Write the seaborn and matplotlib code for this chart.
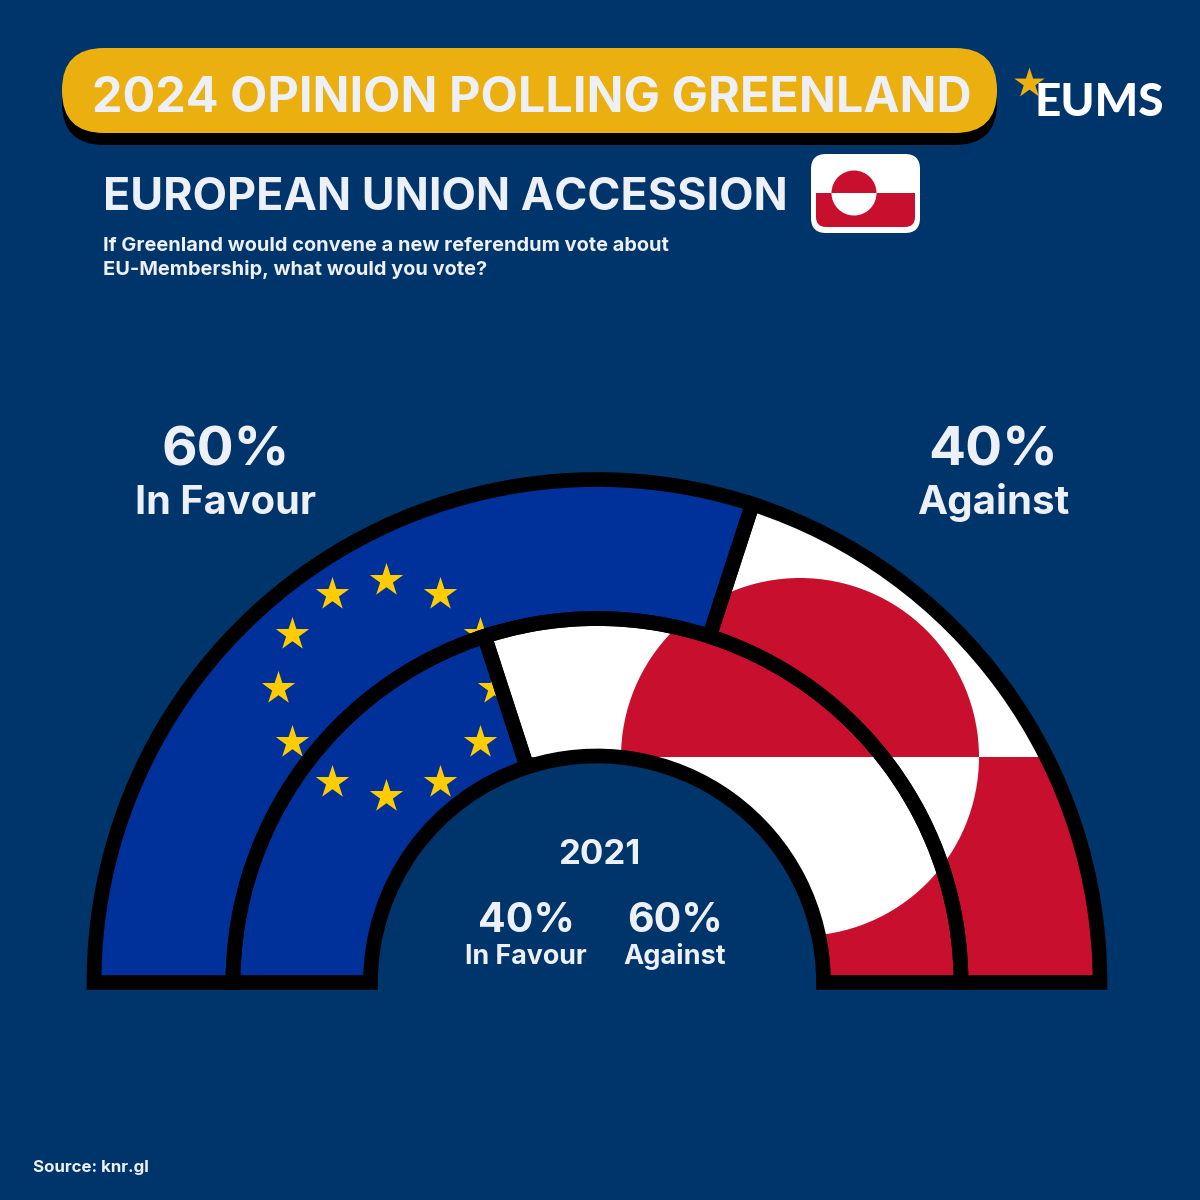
import matplotlib
matplotlib.use("Agg")
import matplotlib.pyplot as plt
import seaborn as sns
import numpy as np
from matplotlib.patches import Wedge, Rectangle, FancyBboxPatch

# ---- data ----
years = ["2024", "2021"]
in_favour = [60, 40]
against = [40, 60]
title = "2024 OPINION POLLING GREENLAND"
subtitle = "EUROPEAN UNION ACCESSION"
question = ["If Greenland would convene a new referendum vote about",
            "EU-Membership, what would you vote?"]
source = "Source: knr.gl"
logo = "EUMS"
n_stars = 12

# ---- style ----
BG, EU_BLUE, RED, WHITE = "#00356B", "#00309A", "#C8102E", "#FFFFFF"
GOLD, STAR, TXT = "#EBB010", "#FFCC00", "#EEF0F8"
FONT = "Inter"

sns.set_theme(style="white", rc={"figure.facecolor": BG, "axes.facecolor": BG})
plt.rcParams["font.family"] = [FONT, "DejaVu Sans"]

fig = plt.figure(figsize=(12, 12), dpi=100, facecolor=BG)
ax = fig.add_axes([0, 0, 1, 1])
ax.set_xlim(0, 1200)
ax.set_ylim(1200, 0)
ax.set_aspect("equal")
ax.axis("off")

# ---- header ----
for dy, col, z in [(12, "black", 2), (0, GOLD, 3)]:
    ax.add_patch(FancyBboxPatch((104, 90 + dy), 851, 1,
                                boxstyle="round,pad=42,rounding_size=42",
                                fc=col, ec="none", zorder=z))
ax.text(531.5, 112, title, ha="center", va="baseline", color=TXT, fontsize=34.9,
        fontweight="bold", zorder=5)
ax.text(103, 210, subtitle, ha="left", va="baseline", color=TXT, fontsize=32.3,
        fontweight="bold")
for line, base in zip(question, [251, 275]):
    ax.text(103, base, line, ha="left", va="baseline", color=TXT, fontsize=14.4,
            fontweight="bold")

# small flag
ax.add_patch(FancyBboxPatch((826, 169), 79, 49, boxstyle="round,pad=15,rounding_size=15",
                            fc=WHITE, ec="none"))
clip_small = FancyBboxPatch((826, 169), 79, 48, boxstyle="round,pad=10,rounding_size=10",
                            fc="none", ec="none")
ax.add_patch(clip_small)
flag_band = Rectangle((810, 193), 110, 40, fc=RED, ec="none")
ax.add_patch(flag_band)
flag_band.set_clip_path(clip_small)
ax.add_patch(Wedge((854, 193), 22.5, 180, 360, fc=RED, ec="none"))
ax.add_patch(Wedge((854, 193), 22.5, 0, 180, fc=WHITE, ec="none"))

# logo
ax.text(1035, 116, logo, ha="left", va="baseline", color=WHITE, fontsize=33,
        fontweight="black", family=["Lato", "DejaVu Sans"])
sns.scatterplot(x=[1029], y=[83], marker="*", s=530, color=GOLD, linewidth=0, ax=ax,
                zorder=6, legend=False)

# ---- rings ----
cx, cy = 597, 982.5
radii = [503, 364, 226.5]
flag_y, flag_cx, flag_r = 757, 800, 179
star_cx, star_cy, star_R = 386, 688, 108
angles = np.arange(n_stars) * 2 * np.pi / n_stars
star_x = star_cx + star_R * np.cos(angles)
star_y = star_cy + star_R * np.sin(angles)

outlines = []
for i in range(len(years)):
    r_out, r_in = radii[i], radii[i + 1]
    split = 180 + 180 * in_favour[i] / (in_favour[i] + against[i])
    w = r_out - r_in
    eu = Wedge((cx, cy), r_out, 180, split, width=w, fc=EU_BLUE, ec="none", zorder=3)
    ax.add_patch(eu)
    before = len(ax.collections)
    sns.scatterplot(x=star_x, y=star_y, marker="*", s=640, color=STAR, linewidth=0, ax=ax,
                    zorder=4, legend=False)
    for coll in ax.collections[before:]:
        coll.set_clip_path(eu)
    gl = Wedge((cx, cy), r_out, split, 360, width=w, fc=WHITE, ec="none", zorder=3)
    ax.add_patch(gl)
    for p in [Rectangle((0, flag_y), 1200, 400, fc=RED, ec="none", zorder=4),
              Wedge((flag_cx, flag_y), flag_r, 180, 360, fc=RED, ec="none", zorder=5),
              Wedge((flag_cx, flag_y), flag_r, 0, 180, fc=WHITE, ec="none", zorder=5)]:
        ax.add_patch(p)
        p.set_clip_path(gl)
    for t1, t2 in [(180, split), (split, 360)]:
        outlines.append((r_out, t1, t2, w))
for r_out, t1, t2, w in outlines:
    ax.add_patch(Wedge((cx, cy), r_out, t1, t2, width=w, fc="none", ec="black", lw=10.6,
                       joinstyle="miter", zorder=7))

# ---- labels ----
def big(x, y, s, size):
    ax.text(x, y, s, ha="center", va="baseline", color=TXT, fontsize=size,
            fontweight="bold", zorder=9)

big(226, 465, f"{in_favour[0]}%", 39.5)
big(225.5, 514, "In Favour", 28.6)
big(993, 465, f"{against[0]}%", 39.5)
big(993.5, 514, "Against", 29)
big(599.5, 864, years[1], 25)
big(526, 932, f"{in_favour[1]}%", 29.5)
big(675, 932, f"{against[1]}%", 29.5)
big(525.5, 964, "In Favour", 19.3)
big(675, 964, "Against", 19.5)
ax.text(33, 1172, source, ha="left", va="baseline", color=TXT, fontsize=12.2, fontweight="bold")

fig.savefig("out.png", dpi=100, facecolor=BG)
